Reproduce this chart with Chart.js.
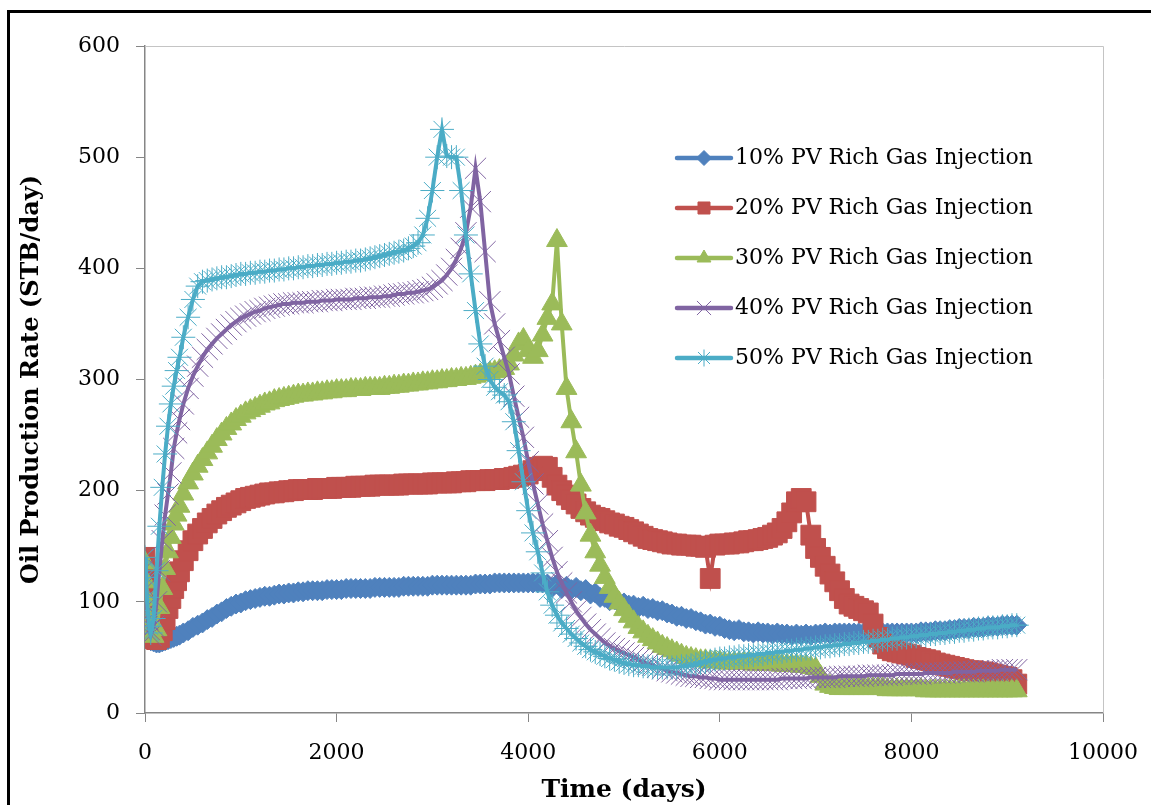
<!DOCTYPE html>
<html>
<head>
<meta charset="utf-8">
<title>Oil Production Rate</title>
<script src="https://cdn.jsdelivr.net/npm/chart.js@4.4.1/dist/chart.umd.min.js"></script>
<style>
  html, body { margin: 0; padding: 0; background: #fff; overflow: hidden; }
  #wrap { position: relative; width: 1151px; height: 805px; }
  #frame { position: absolute; left: 7px; top: 10px; width: 1170px; height: 830px; border: 3px solid #000; box-sizing: border-box; }
  #rate-chart { position: absolute; left: 0; top: 0; }
</style>
</head>
<body>
<div id="wrap">
  <div id="frame"></div>
  <canvas id="rate-chart" width="1151" height="805"></canvas>
</div>
<script>
// report time steps (days), shared by all five runs
const days = [
  0, 10, 20, 30, 45, 60, 90, 120, 150, 180, 210, 240, 270, 300, 330, 360, 400, 450, 500, 550,
  600, 650, 700, 750, 800, 850, 900, 950, 1000, 1050, 1100, 1150, 1200, 1250, 1300, 1350, 1400, 1450, 1500, 1550,
  1600, 1650, 1700, 1750, 1800, 1850, 1900, 1950, 2000, 2050, 2100, 2150, 2200, 2250, 2300, 2350, 2400, 2450, 2500, 2550,
  2600, 2650, 2700, 2750, 2800, 2850, 2900, 2950, 3000, 3050, 3100, 3150, 3200, 3250, 3300, 3350, 3400, 3450, 3500, 3550,
  3600, 3650, 3700, 3750, 3800, 3850, 3900, 3950, 4000, 4050, 4100, 4150, 4200, 4250, 4300, 4350, 4400, 4450, 4500, 4550,
  4600, 4650, 4700, 4750, 4800, 4850, 4900, 4950, 5000, 5050, 5100, 5150, 5200, 5250, 5300, 5350, 5400, 5450, 5500, 5550,
  5600, 5650, 5700, 5750, 5800, 5850, 5900, 5950, 6000, 6050, 6100, 6150, 6200, 6250, 6300, 6350, 6400, 6450, 6500, 6550,
  6600, 6650, 6700, 6750, 6800, 6850, 6900, 6950, 7000, 7050, 7100, 7150, 7200, 7250, 7300, 7350, 7400, 7450, 7500, 7550,
  7600, 7650, 7700, 7750, 7800, 7850, 7900, 7950, 8000, 8050, 8100, 8150, 8200, 8250, 8300, 8350, 8400, 8450, 8500, 8550,
  8600, 8650, 8700, 8750, 8800, 8850, 8900, 8950, 9000, 9050, 9100
];

// oil rate, STB/day
const rate10 = [
  72, 70, 68, 67, 66, 65, 64, 63, 63, 64, 65, 66, 67, 68, 69, 70, 72, 74, 77, 79,
  81, 84, 86, 89, 91, 94, 96, 98, 99, 101, 102, 103, 104, 105, 105, 106, 107, 107, 108, 108,
  109, 109, 110, 110, 110, 110, 111, 111, 111, 111, 112, 112, 112, 112, 112, 112, 113, 113, 113, 113,
  113, 113, 114, 114, 114, 114, 114, 114, 115, 115, 115, 115, 115, 115, 115, 115, 115, 116, 116, 116,
  116, 117, 117, 117, 117, 117, 117, 117, 117, 117, 117, 117, 116, 113, 116, 112, 114, 111, 113, 110,
  111, 107, 108, 104, 104, 101, 102, 99, 99, 97, 97, 95, 96, 94, 94, 92, 92, 90, 89, 87,
  87, 85, 85, 83, 82, 80, 80, 78, 78, 76, 75, 74, 75, 73, 73, 72, 73, 72, 72, 71,
  72, 71, 71, 70, 71, 70, 71, 70, 71, 71, 72, 71, 72, 72, 72, 72, 72, 72, 72, 72,
  72, 72, 72, 72, 72, 72, 72, 72, 72, 72, 73, 73, 73, 74, 74, 74, 75, 75, 76, 76,
  76, 77, 77, 77, 78, 78, 78, 79, 79, 79, 79
];
const rate20 = [
  140, 122, 105, 90, 78, 70, 67, 66, 68, 74, 84, 94, 103, 112, 119, 127, 137, 146, 155, 161,
  166, 171, 175, 179, 182, 185, 187, 189, 191, 193, 194, 195, 196, 197, 198, 198, 199, 199, 200, 200,
  201, 201, 201, 201, 202, 202, 202, 202, 203, 203, 203, 203, 204, 204, 204, 204, 205, 205, 205, 205,
  205, 205, 206, 206, 206, 206, 206, 206, 207, 207, 207, 207, 207, 208, 208, 208, 209, 209, 209, 209,
  210, 210, 210, 211, 211, 212, 213, 214, 215, 218, 221, 222, 221, 212, 205, 200, 196, 192, 188, 184,
  181, 178, 176, 175, 173, 171, 170, 168, 167, 165, 163, 161, 159, 157, 156, 155, 154, 153, 152, 152,
  151, 151, 151, 150, 150, 149, 121, 151, 152, 152, 152, 153, 153, 154, 155, 155, 156, 157, 158, 160,
  162, 166, 172, 180, 190, 193, 190, 160, 148, 140, 132, 125, 118, 110, 103, 98, 96, 94, 92, 90,
  80, 68, 62, 58, 56, 55, 54, 53, 52, 50, 49, 48, 47, 45, 44, 43, 42, 41, 40, 39,
  38, 38, 37, 37, 36, 35, 34, 33, 32, 30, 26
];
const rate30 = [
  135, 118, 102, 88, 77, 70, 69, 75, 95, 112, 130, 145, 158, 170, 178, 186, 197, 207, 215, 222,
  228, 234, 240, 246, 251, 256, 260, 264, 267, 270, 272, 274, 276, 278, 279, 281, 282, 283, 284, 285,
  286, 286, 287, 287, 288, 288, 289, 289, 290, 290, 290, 291, 291, 291, 292, 292, 292, 292, 293, 293,
  294, 294, 295, 295, 296, 296, 297, 297, 298, 298, 299, 299, 300, 300, 301, 301, 302, 303, 304, 305,
  306, 307, 308, 310, 314, 322, 332, 336, 326, 320, 326, 340, 355, 368, 425, 350, 292, 262, 235, 205,
  180, 160, 145, 133, 122, 113, 105, 99, 93, 87, 82, 77, 73, 69, 66, 63, 60, 58, 56, 54,
  52, 50, 49, 48, 47, 47, 46, 46, 46, 45, 45, 45, 45, 45, 45, 44, 44, 44, 44, 44,
  44, 43, 43, 43, 43, 42, 42, 41, 40, 33, 26, 24, 23, 22, 22, 22, 22, 22, 22, 22,
  22, 22, 22, 21, 21, 21, 21, 21, 21, 21, 21, 20, 20, 20, 20, 20, 20, 20, 20, 20,
  20, 20, 20, 20, 20, 20, 20, 20, 20, 20, 20
];
const rate40 = [
  130, 112, 96, 84, 75, 70, 78, 100, 128, 155, 178, 197, 216, 238, 252, 264, 278, 292, 303, 312,
  320, 327, 332, 337, 341, 345, 349, 352, 355, 357, 359, 361, 362, 364, 365, 366, 367, 368, 368, 369,
  369, 369, 370, 370, 370, 371, 371, 371, 372, 372, 372, 372, 373, 373, 373, 374, 374, 374, 375, 375,
  376, 377, 377, 378, 378, 379, 380, 381, 383, 386, 389, 394, 400, 408, 418, 432, 455, 490, 460, 415,
  370, 350, 335, 320, 305, 285, 266, 248, 226, 206, 188, 170, 155, 140, 127, 117, 108, 100, 92, 86,
  80, 75, 71, 67, 63, 60, 58, 56, 54, 52, 50, 48, 46, 44, 43, 41, 40, 38, 37, 36,
  35, 34, 33, 33, 32, 32, 31, 31, 30, 30, 30, 30, 30, 30, 30, 30, 30, 30, 30, 30,
  30, 31, 31, 31, 31, 31, 31, 32, 32, 32, 32, 32, 32, 33, 33, 33, 33, 33, 33, 34,
  34, 34, 34, 34, 34, 35, 35, 35, 35, 35, 35, 36, 36, 36, 36, 36, 36, 37, 37, 37,
  37, 37, 38, 38, 38, 38, 38, 39, 39, 39, 39
];
const rate50 = [
  140, 122, 104, 90, 78, 72, 85, 128, 168, 203, 233, 258, 278, 294, 308, 320, 338, 356, 372, 384,
  388, 389, 390, 391, 392, 392, 393, 394, 395, 395, 396, 396, 397, 397, 398, 398, 399, 399, 400, 400,
  401, 401, 402, 402, 403, 403, 404, 404, 405, 405, 406, 406, 407, 407, 408, 409, 410, 411, 412, 413,
  414, 415, 416, 418, 420, 423, 430, 445, 470, 500, 525, 501, 500, 500, 470, 430, 395, 362, 332, 312,
  300, 293, 289, 286, 280, 262, 236, 208, 182, 162, 145, 126, 109, 97, 88, 81, 76, 71, 67, 63,
  60, 57, 55, 53, 51, 49, 48, 46, 45, 44, 43, 43, 42, 42, 41, 41, 41, 41, 41, 41,
  42, 42, 43, 44, 45, 46, 47, 48, 49, 49, 50, 50, 51, 51, 52, 52, 53, 53, 54, 54,
  55, 55, 56, 56, 57, 57, 58, 58, 59, 59, 60, 60, 61, 61, 62, 62, 63, 63, 64, 64,
  65, 65, 66, 66, 67, 67, 68, 68, 69, 69, 70, 70, 71, 71, 72, 72, 73, 73, 74, 74,
  75, 75, 76, 76, 77, 77, 77, 78, 78, 79, 79
];

const seriesLabels = [
  '10% PV Rich Gas Injection',
  '20% PV Rich Gas Injection',
  '30% PV Rich Gas Injection',
  '40% PV Rich Gas Injection',
  '50% PV Rich Gas Injection'
];
const xTicks = [0, 2000, 4000, 6000, 8000, 10000];
const yTicks = [0, 100, 200, 300, 400, 500, 600];

const SERIF = '"DejaVu Serif", "Liberation Serif", serif';

function series(i, values, color, pointStyle, radius, legendRadius, pointWidth) {
  return {
    label: seriesLabels[i],
    data: days.map((d, j) => ({ x: d, y: values[j] })),
    borderColor: color,
    backgroundColor: color,
    borderWidth: 4,
    pointStyle: pointStyle,
    pointRadius: radius,
    pointBackgroundColor: color,
    pointBorderColor: color,
    pointBorderWidth: pointWidth,
    legendRadius: legendRadius,
    order: 5 - i,
    tension: 0
  };
}

// light grey frame on the open sides of the plot area
const plotFrame = {
  id: 'plotFrame',
  beforeDatasetsDraw(chart) {
    const { ctx, chartArea: a } = chart;
    ctx.save();
    ctx.strokeStyle = '#c4c4c4';
    ctx.lineWidth = 1;
    ctx.beginPath();
    ctx.moveTo(a.left, a.top + 0.5);
    ctx.lineTo(a.right + 0.5, a.top + 0.5);
    ctx.lineTo(a.right + 0.5, a.bottom);
    ctx.stroke();
    ctx.restore();
  }
};

// legend drawn inside the plot, line sample with the marker on it
const insideLegend = {
  id: 'insideLegend',
  afterDatasetsDraw(chart) {
    const { ctx, chartArea: a } = chart;
    const x0 = a.left + 532;
    ctx.save();
    chart.data.datasets.forEach((ds, i) => {
      const y = a.top + 112 + i * 50;
      ctx.strokeStyle = ds.borderColor;
      ctx.lineWidth = 4.5;
      ctx.lineCap = 'round';
      ctx.beginPath();
      ctx.moveTo(x0, y);
      ctx.lineTo(x0 + 54, y);
      ctx.stroke();
      ctx.lineCap = 'butt';
      ctx.fillStyle = ds.pointBackgroundColor;
      ctx.strokeStyle = ds.pointBorderColor;
      ctx.lineWidth = ds.pointBorderWidth;
      Chart.helpers.drawPoint(ctx, {
        pointStyle: ds.pointStyle,
        radius: ds.legendRadius,
        borderWidth: ds.pointBorderWidth,
        rotation: 0
      }, x0 + 27, y);
      ctx.fillStyle = '#000';
      ctx.font = '22px ' + SERIF;
      ctx.textAlign = 'left';
      ctx.textBaseline = 'middle';
      ctx.fillText(ds.label, x0 + 58, y);
    });
    ctx.restore();
  }
};

const ctx = document.getElementById('rate-chart');
new Chart(ctx, {
  type: 'line',
  data: {
    datasets: [
      series(0, rate10, '#4f81bd', 'rectRot', 10, 7.5, 1),
      series(1, rate20, '#c0504d', 'rect', 14, 8.5, 1),
      series(2, rate30, '#9bbb59', 'triangle', 12, 8, 1),
      series(3, rate40, '#8064a2', 'crossRot', 15, 10, 1),
      series(4, rate50, '#4bacc6', 'star', 12, 8.5, 1)
    ]
  },
  options: {
    responsive: false,
    animation: false,
    devicePixelRatio: 1,
    layout: { padding: { left: 0, top: 46, right: 48, bottom: 0 } },
    plugins: {
      legend: { display: false },
      tooltip: { enabled: false }
    },
    events: [],
    scales: {
      x: {
        type: 'linear',
        min: 0,
        max: 10000,
        afterFit: (scale) => {
          scale.height = 92;
          scale.paddingLeft = 0;
          scale.paddingRight = 0;
        },
        afterBuildTicks: (scale) => { scale.ticks = xTicks.map((v) => ({ value: v })); },
        ticks: {
          autoSkip: false,
          maxRotation: 0,
          padding: 18,
          color: '#000',
          font: { family: SERIF, size: 22 },
          callback: (v) => String(v)
        },
        grid: { drawOnChartArea: false, drawTicks: true, tickLength: 9, color: '#868686', lineWidth: 1 },
        border: { color: '#868686', width: 1.5 },
        title: {
          display: true,
          text: 'Time (days)',
          color: '#000',
          font: { family: SERIF, size: 25, weight: 'bold' },
          padding: { top: 0, bottom: 0 }
        }
      },
      y: {
        type: 'linear',
        min: 0,
        max: 600,
        afterFit: (scale) => { scale.width = 145; },
        afterBuildTicks: (scale) => { scale.ticks = yTicks.map((v) => ({ value: v })); },
        ticks: {
          padding: 16,
          color: '#000',
          font: { family: SERIF, size: 22 },
          callback: (v) => String(v)
        },
        grid: { drawOnChartArea: false, drawTicks: true, tickLength: 9, color: '#868686', lineWidth: 1 },
        border: { color: '#868686', width: 1.5 },
        title: {
          display: true,
          text: 'Oil Production Rate (STB/day)',
          color: '#000',
          font: { family: SERIF, size: 24, weight: 'bold' },
          padding: { top: 17, bottom: 0 }
        }
      }
    }
  },
  plugins: [plotFrame, insideLegend]
});
</script>
</body>
</html>
